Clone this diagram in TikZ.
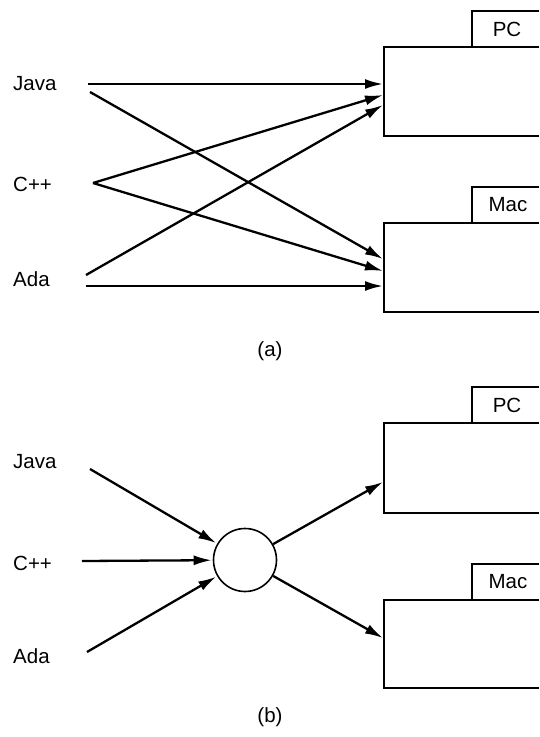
\documentclass[tikz,border=0pt]{standalone}
\usepackage{fontspec}
\setmainfont{Liberation Sans}
\usetikzlibrary{arrows.meta}
\begin{document}
\begin{tikzpicture}[x=1pt,y=-1pt,
  lbl/.style={inner sep=0pt,font=\fontsize{20.5}{24}\selectfont},
  boxline/.style={line width=1.8pt},
  conn/.style={line width=2.3pt,-{Latex[length=18pt,width=10pt]}},
  plain/.style={line width=2.3pt}]
\useasboundingbox (0,0) rectangle (539,737);
% ---------- (a) ----------
\draw[boxline] (539,47) -- (384,47) -- (384,136) -- (539,136);
\draw[boxline] (472,47) -- (472,11) -- (539,11);
\node[lbl] (pcA) at (507,29) {PC};
\draw[boxline] (539,223) -- (384,223) -- (384,312) -- (539,312);
\draw[boxline] (472,223) -- (472,187) -- (539,187);
\node[lbl] (macA) at (508,205) {Mac};

\node[lbl,anchor=west] (javaA) at (13,84) {Java};
\node[lbl,anchor=west] (cppA) at (13,184) {C++};
\node[lbl,anchor=west] (adaA) at (13,279) {Ada};

\coordinate (jA1) at (88,84);
\coordinate (jA2) at (90,92);
\coordinate (cA) at (93,183);
\coordinate (aA1) at (86,275);
\coordinate (aA2) at (86,286);
\coordinate (pA1) at (383,84);
\coordinate (pA2) at (383,95);
\coordinate (pA3) at (383,105);
\coordinate (mA1) at (383,259);
\coordinate (mA2) at (383,271);
\coordinate (mA3) at (383,286);

\draw[conn] (jA1) -- (pA1);
\draw[conn] (jA2) -- (mA1);
\draw[conn] (cA) -- (pA2);
\draw[conn] (cA) -- (mA2);
\draw[conn] (aA1) -- (pA3);
\draw[conn] (aA2) -- (mA3);

\node[lbl] (capA) at (270,351) {(a)};

% ---------- (b) ----------
\draw[boxline] (539,423) -- (384,423) -- (384,513) -- (539,513);
\draw[boxline] (472,423) -- (472,387) -- (539,387);
\node[lbl] (pcB) at (507,405) {PC};
\draw[boxline] (539,600) -- (384,600) -- (384,688) -- (539,688);
\draw[boxline] (472,600) -- (472,564) -- (539,564);
\node[lbl] (macB) at (508,582) {Mac};

\node[lbl,anchor=west] (javaB) at (13,462) {Java};
\node[lbl,anchor=west] (cppB) at (13,563) {C++};
\node[lbl,anchor=west] (adaB) at (13,656) {Ada};

\node[circle,draw,line width=1.6pt,minimum size=63pt,inner sep=0pt] (hub) at (245,560) {};

\coordinate (jB) at (90,469);
\coordinate (cB) at (82,561);
\coordinate (aB) at (87,652);
\coordinate (pB) at (383,482);
\coordinate (mB) at (383,638);

\draw[conn,shorten >=1pt] (jB) -- (hub);
\draw[conn,shorten >=1pt] (cB) -- (hub);
\draw[conn,shorten >=1pt] (aB) -- (hub);
\draw[conn] (hub) -- (pB);
\draw[conn] (hub) -- (mB);

\node[lbl] (capB) at (270,717) {(b)};
\end{tikzpicture}
\end{document}
